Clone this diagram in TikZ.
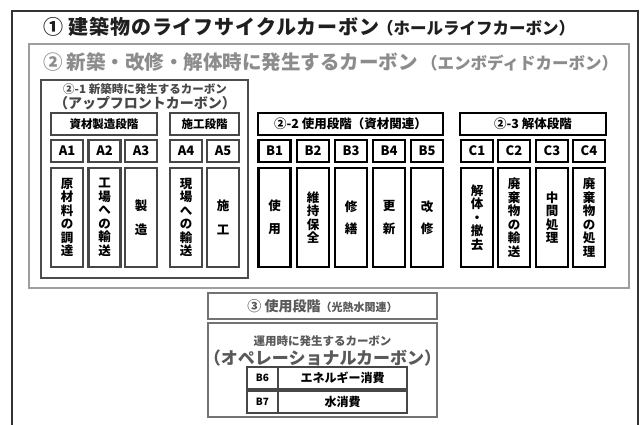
\documentclass[tikz,border=0pt]{standalone}
\usepackage{fontspec}
\setmainfont{Noto Sans CJK JP}
\begin{document}
\begin{tikzpicture}[x=1pt,y=-1pt,
  every node/.style={inner sep=0pt, outer sep=0pt},
  hdr/.style={draw=black, line width=2.4pt, minimum height=22pt, font=\bfseries\fontsize{12.5}{13}\selectfont},
  ahdr/.style={hdr, draw=black!72, line width=2.2pt, font=\bfseries\fontsize{11.5}{12}\selectfont},
  lab/.style={draw=black, line width=2.4pt, minimum width=32pt, minimum height=22pt, font=\bfseries\fontsize{13}{14}\selectfont},
  alab/.style={lab, draw=black!72, line width=2.2pt},
  tall/.style={draw=black, line width=2.4pt, minimum width=32pt, minimum height=99pt, align=center, font=\bfseries\fontsize{12.5}{13.5}\selectfont},
  atall/.style={tall, draw=black!72, line width=2.2pt},
  opcell/.style={draw=black!72, line width=2pt, minimum height=22pt, font=\bfseries\fontsize{12}{13}\selectfont},
  frameA/.style={draw=black!80, line width=2pt},
  frameB/.style={draw=black!38, line width=2.5pt},
  frameC/.style={draw=black!70, line width=2pt},
  frameD/.style={draw=black!55, line width=2pt},
  ptitle/.style={anchor=east, font=\bfseries\fontsize{16.5}{17}\selectfont}
]
\useasboundingbox (0,0) rectangle (641,424);
\clip (0,0) rectangle (641,424);
\fill[white] (0,0) rectangle (641,424);

% frames
\draw[frameA] (12,11) rectangle (638,440);
\draw[frameB] (29,44) rectangle (629,288);
\draw[frameC] (41,80) rectangle (248,278);

% titles
\node[anchor=west, font=\bfseries\fontsize{20}{21}\selectfont\addfontfeature{LetterSpace=4.5}, text=black!88] (t1) at (43,27) {① 建築物のライフサイクルカーボン};
\node[ptitle, text=black!88] (t1p) at (575,28) {（ホールライフカーボン）};
\node[anchor=west, font=\bfseries\fontsize{19.5}{21}\selectfont, text=black!45] (t2) at (43,62) {② 新築・改修・解体時に発生するカーボン};
\node[ptitle, text=black!45] (t2p) at (618,63) {（エンボディドカーボン）};

% upfront
\node[font=\bfseries\fontsize{11.5}{12}\selectfont, text=black!72] (u1) at (145,89) {②-1 新築時に発生するカーボン};
\node[font=\bfseries\fontsize{14}{15}\selectfont, text=black!72] (u2) at (145,103) {（アップフロントカーボン）};

\node[ahdr, minimum width=106pt] (hA) at (104,124) {資材製造段階};
\node[ahdr, minimum width=69pt] (hAA) at (204.5,124) {施工段階};
\node[hdr, minimum width=185pt] (hB) at (350.5,124) {②-2 使用段階（資材関連）};
\node[hdr, minimum width=146pt] (hC) at (533,124) {②-3 解体段階};

% A
\node[alab] (a1) at (67,151) {A1};
\node[alab] (a2) at (104.5,151) {A2};
\node[alab] (a3) at (141,151) {A3};
\node[alab] (a4) at (186,151) {A4};
\node[alab] (a5) at (223,151) {A5};
\node[atall] (a1t) at (67,217.5) {原\\材\\料\\の\\調\\達};
\node[atall] (a2t) at (104.5,217.5) {工\\場\\へ\\の\\輸\\送};
\node[atall] (a3t) at (141,217.5) {製\\[11pt]造};
\node[atall] (a4t) at (186,217.5) {現\\場\\へ\\の\\輸\\送};
\node[atall] (a5t) at (223,217.5) {施\\[10pt]工};

% B
\node[lab] (b1) at (274.5,151) {B1};
\node[lab] (b2) at (313,151) {B2};
\node[lab] (b3) at (351,151) {B3};
\node[lab] (b4) at (389,151) {B4};
\node[lab] (b5) at (427,151) {B5};
\node[tall] (b1t) at (274.5,217.5) {使\\[9pt]用};
\node[tall] (b2t) at (313,217.5) {維\\持\\保\\全};
\node[tall] (b3t) at (351,217.5) {修\\[9pt]繕};
\node[tall] (b4t) at (389,217.5) {更\\[9pt]新};
\node[tall] (b5t) at (427,217.5) {改\\[9pt]修};

% C
\node[lab] (c1) at (477,151) {C1};
\node[lab] (c2) at (514,151) {C2};
\node[lab] (c3) at (552,151) {C3};
\node[lab] (c4) at (589,151) {C4};
\node[tall] (c1t) at (477,217.5) {解\\体\\・\\撤\\去};
\node[tall] (c2t) at (514,217.5) {廃\\棄\\物\\の\\輸\\送};
\node[tall] (c3t) at (552,217.5) {中\\間\\処\\理};
\node[tall] (c4t) at (589,217.5) {廃\\棄\\物\\の\\処\\理};

% operational
\node[frameD, minimum width=229pt, minimum height=26pt, text=black!65, font=\bfseries\fontsize{14}{15}\selectfont] (op) at (322.5,306)
  {③ 使用段階\fontsize{11}{12}\selectfont （光熱水関連）};
\node[frameD, minimum width=229pt, minimum height=94pt] (opbox) at (322.5,370) {};
\node[font=\bfseries\fontsize{11.5}{12}\selectfont, text=black!65] (o1) at (322.5,341) {運用時に発生するカーボン};
\node[font=\bfseries\fontsize{17}{18}\selectfont, text=black!65] (o2) at (322.5,358) {（オペレーショナルカーボン）};
\node[opcell, minimum width=31pt, font=\bfseries\fontsize{10}{11}\selectfont] (b6) at (262.5,378) {B6};
\node[opcell, minimum width=129pt] (b6t) at (342.5,378) {エネルギー消費};
\node[opcell, minimum width=31pt, font=\bfseries\fontsize{10}{11}\selectfont] (b7) at (262.5,402) {B7};
\node[opcell, minimum width=129pt] (b7t) at (342.5,402) {水消費};
\end{tikzpicture}
\end{document}
